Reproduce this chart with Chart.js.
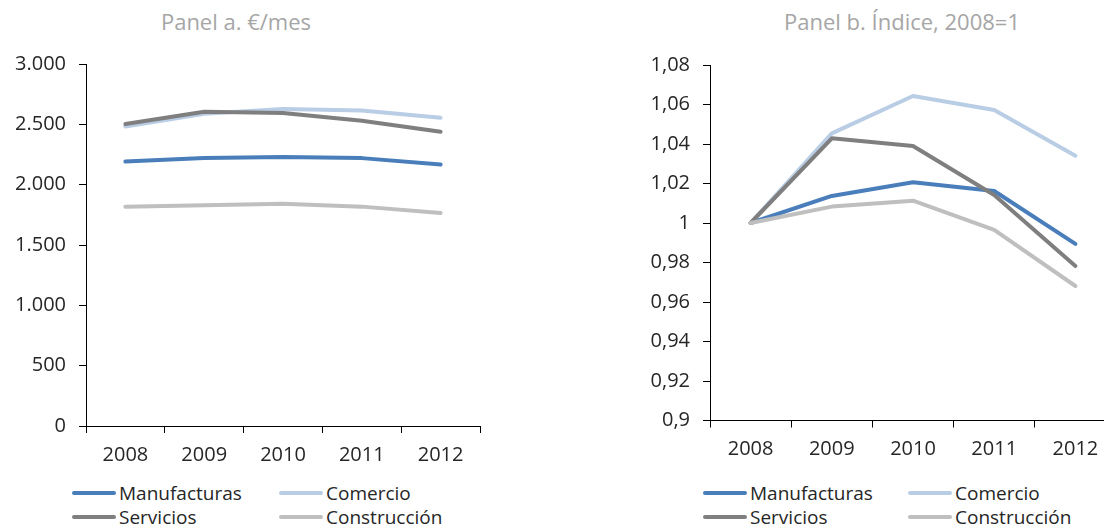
<!DOCTYPE html>
<html><head><meta charset="utf-8">
<script src="https://cdn.jsdelivr.net/npm/chart.js@4"></script>
<style>
html,body{margin:0;padding:0;width:1104px;height:528px;overflow:hidden;background:#fff;font-family:"Open Sans",sans-serif;position:relative;}
canvas{position:absolute;top:0;}
.title{position:absolute;top:6px;font-size:22px;color:#a6a6a6;white-space:nowrap;transform:translateX(-50%);}
.item{position:absolute;display:flex;align-items:center;white-space:nowrap;font-size:19px;color:#262626;height:24px;}
.swatch{width:44px;height:4px;border-radius:2px;margin-right:3px;}
</style></head><body>
<div class="title" id="tA" style="left:236px"></div>
<div class="title" id="tB" style="left:902px"></div>
<canvas id="cA" width="500" height="480" style="left:0"></canvas>
<canvas id="cB" width="580" height="480" style="left:552px"></canvas>
<div id="legA"></div><div id="legB"></div>
<script>
// ---- data ----
const years = ['2008', '2009', '2010', '2011', '2012'];
const seriesNames = ['Manufacturas', 'Comercio', 'Servicios', 'Construcción'];
const titleA = 'Panel a. €/mes';
const titleB = 'Panel b. Índice, 2008=1';

// Panel a: €/mes
const salaryManufacturas = [2191, 2220, 2230, 2220, 2167];
const salaryComercio     = [2482, 2587, 2628, 2614, 2554];
const salaryServicios    = [2502, 2604, 2593, 2529, 2438];
const salaryConstruccion = [1818, 1830, 1841, 1818, 1766];

// Panel b: índice 2008=1
const indexManufacturas = [1, 1.0137, 1.0206, 1.0162, 0.9894];
const indexComercio     = [1, 1.0454, 1.0643, 1.0572, 1.0341];
const indexServicios    = [1, 1.0429, 1.0390, 1.0142, 0.9782];
const indexConstruccion = [1, 1.0083, 1.0113, 0.9965, 0.9681];

const ticksA = [0, 500, 1000, 1500, 2000, 2500, 3000];
const ticksB = [0.9, 0.92, 0.94, 0.96, 0.98, 1, 1.02, 1.04, 1.06, 1.08];

// ---- styles ----
const seriesColors = ['#4a7ebb', '#b9cde5', '#7f7f7f', '#bfbfbf'];
const FONT = '"Open Sans", sans-serif';
const TXT = '#262626';

const fmtA = v => String(v).replace(/\B(?=(\d{3})+(?!\d))/g, '.');
const fmtB = v => String(+(+v).toFixed(2)).replace('.', ',');

function makeChart(id, seriesData, ticks, fmt, opt) {
  const ctx = document.getElementById(id);
  return new Chart(ctx, {
    type: 'line',
    data: {
      labels: years,
      datasets: seriesData.map((d, i) => ({
        label: seriesNames[i],
        data: d,
        borderColor: seriesColors[i],
        backgroundColor: seriesColors[i],
        borderWidth: 4,
        pointRadius: 0,
        tension: 0,
        fill: false,
        borderCapStyle: 'round',
        borderJoinStyle: 'round',
        order: seriesData.length - i
      }))
    },
    options: {
      responsive: false,
      animation: false,
      devicePixelRatio: 1,
      events: [],
      layout: { padding: opt.padding },
      plugins: { legend: { display: false }, tooltip: { enabled: false }, title: { display: false } },
      scales: {
        x: {
          type: 'category',
          offset: true,
          grid: { offset: true, drawOnChartArea: false, drawTicks: true, tickLength: 7, color: '#000', lineWidth: 1 },
          border: { display: true, color: '#000', width: 1 },
          ticks: { color: TXT, font: { size: 20, family: FONT }, padding: 10, maxRotation: 0, autoSkip: false },
          afterFit: s => { s.height = opt.xh; }
        },
        y: {
          min: ticks[0],
          max: ticks[ticks.length - 1],
          afterBuildTicks: s => { s.ticks = ticks.map(v => ({ value: v })); },
          grid: { drawOnChartArea: false, drawTicks: true, tickLength: 7, color: '#000', lineWidth: 1 },
          border: { display: true, color: '#000', width: 1 },
          ticks: { color: TXT, font: { size: 20, family: FONT }, padding: 13, callback: v => fmt(v) },
          afterFit: s => { s.width = opt.yw; }
        }
      }
    }
  });
}

document.getElementById('tA').textContent = titleA;
document.getElementById('tB').textContent = titleB;

makeChart('cA', [salaryManufacturas, salaryComercio, salaryServicios, salaryConstruccion], ticksA, fmtA,
  { padding: { top: 64, right: 20, bottom: 0, left: 0 }, yw: 86, xh: 54 });
makeChart('cB', [indexManufacturas, indexComercio, indexServicios, indexConstruccion], ticksB, fmtB,
  { padding: { top: 65, right: 16, bottom: 0, left: 0 }, yw: 158, xh: 59.5 });

function legend(id, cols, rows) {
  const host = document.getElementById(id);
  seriesNames.forEach((n, i) => {
    const el = document.createElement('div');
    el.className = 'item';
    el.style.left = cols[i % 2] + 'px';
    el.style.top = (rows[Math.floor(i / 2)] - 12) + 'px';
    const sw = document.createElement('span');
    sw.className = 'swatch';
    sw.style.background = seriesColors[i];
    const t = document.createElement('span');
    t.textContent = n;
    el.appendChild(sw); el.appendChild(t);
    host.appendChild(el);
  });
}
legend('legA', [72, 279], [493, 517]);
legend('legB', [703, 908], [493, 517]);
</script>
</body></html>
